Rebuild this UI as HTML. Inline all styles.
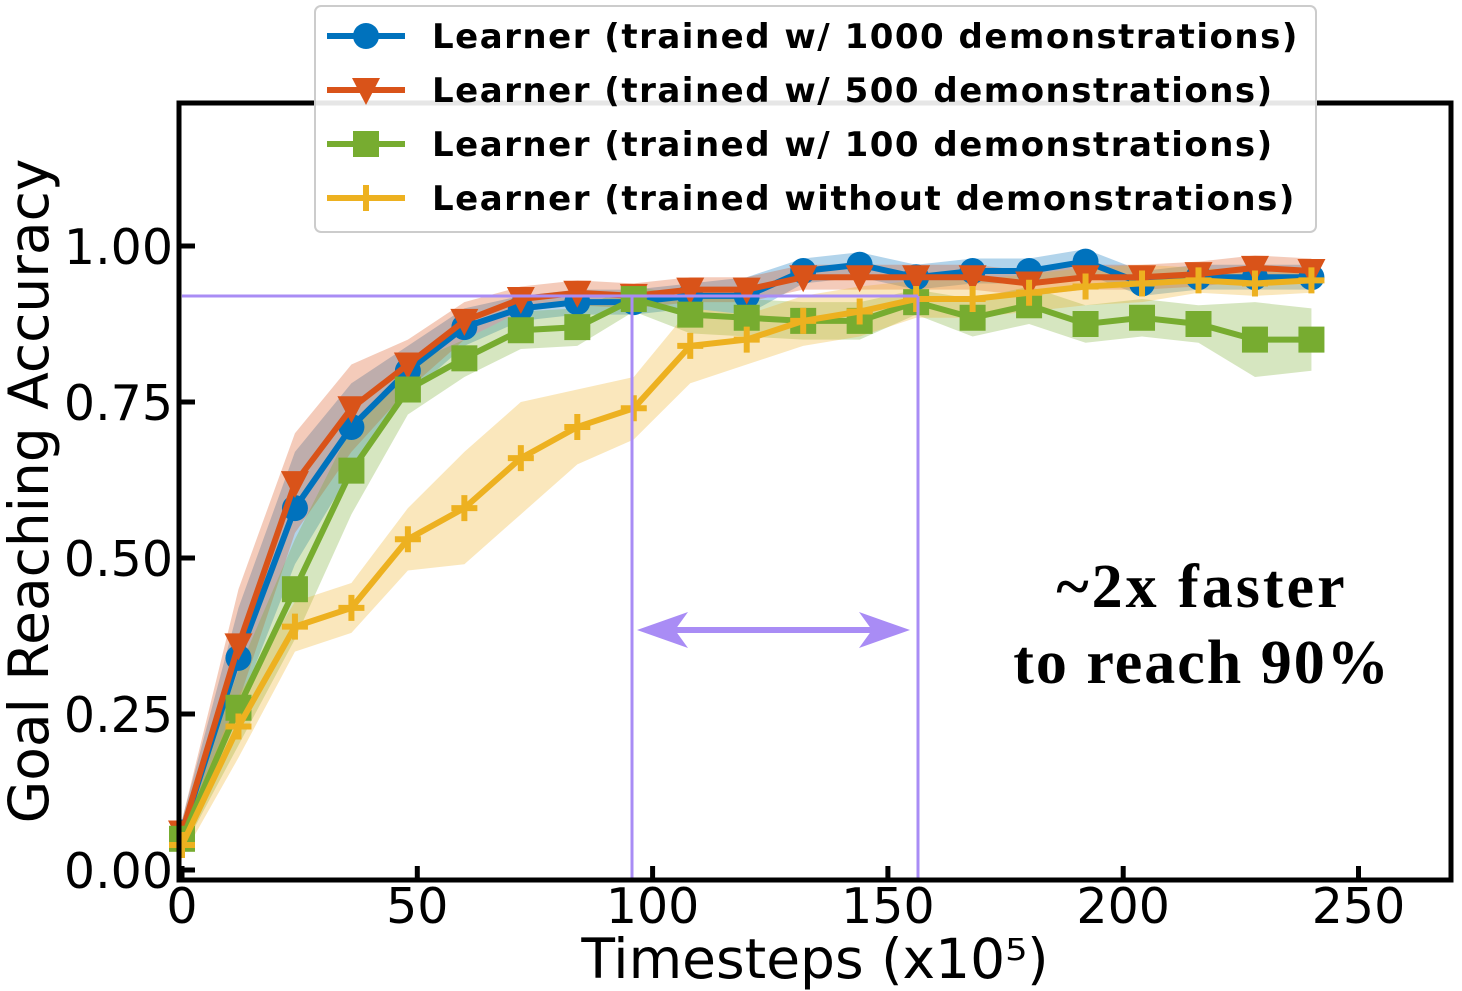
<!DOCTYPE html>
<html><head><meta charset="utf-8"><style>
html,body{margin:0;padding:0;background:#fff;}
svg{display:block;font-family:"DejaVu Sans","Liberation Sans",sans-serif;}
</style></head><body>
<svg id="chart" width="1462" height="991" viewBox="0 0 1462 991">
<g id="bands"></g>
<g id="lines"></g>
<g id="anno">
<line x1="182" y1="296" x2="918" y2="296" stroke="#a98cf5" stroke-width="3"/>
<line x1="632" y1="296" x2="632" y2="880" stroke="#a98cf5" stroke-width="3"/>
<line x1="918" y1="296" x2="918" y2="880" stroke="#a98cf5" stroke-width="3"/>
<line x1="650" y1="630" x2="896" y2="630" stroke="#a98cf5" stroke-width="6"/>
<path d="M637,630 L688,612 L675,630 L688,648 Z" fill="#a98cf5"/>
<path d="M910,630 L859,612 L872,630 L859,648 Z" fill="#a98cf5"/>
<text x="1202" y="607" text-anchor="middle" font-family="Liberation Serif,serif" font-weight="bold" font-size="62" letter-spacing="3">~2x faster</text>
<text x="1202" y="683" text-anchor="middle" font-family="Liberation Serif,serif" font-weight="bold" font-size="62" letter-spacing="2">to reach 90%</text>
</g>
<rect x="179" y="103" width="1272" height="777" fill="none" stroke="#000" stroke-width="5"/>
<g id="axes"></g>
<text x="815" y="978" text-anchor="middle" font-size="55">Timesteps (x10⁵)</text>
<text transform="translate(48,491) rotate(-90)" text-anchor="middle" font-size="55">Goal Reaching Accuracy</text>
<g>
<rect x="315" y="6" width="1001" height="226" rx="6" fill="#fff" fill-opacity="0.9" stroke="#ccc" stroke-width="2"/>
<g id="legend-items"></g>
</g>
</svg>
<script>
const xs=[0,12,24,36,48,60,72,84,96,108,120,132,144,156,168,180,192,204,216,228,240];
const blue=[0.06,0.34,0.58,0.71,0.80,0.87,0.90,0.91,0.91,0.92,0.92,0.96,0.97,0.95,0.96,0.96,0.975,0.94,0.95,0.95,0.95];
const orange=[0.06,0.36,0.62,0.74,0.81,0.88,0.915,0.925,0.92,0.93,0.93,0.95,0.95,0.95,0.95,0.94,0.95,0.95,0.955,0.965,0.96];
const green=[0.05,0.26,0.45,0.64,0.77,0.82,0.865,0.87,0.915,0.89,0.885,0.88,0.88,0.91,0.885,0.905,0.875,0.885,0.875,0.85,0.85];
const yellow=[0.04,0.23,0.39,0.42,0.53,0.58,0.66,0.71,0.74,0.84,0.85,0.88,0.895,0.915,0.915,0.925,0.935,0.94,0.945,0.94,0.945];
const blueStd=[0.02,0.08,0.09,0.07,0.04,0.03,0.02,0.02,0.02,0.02,0.03,0.02,0.02,0.02,0.02,0.02,0.02,0.02,0.02,0.02,0.02];
const orangeStd=[0.02,0.09,0.08,0.07,0.04,0.03,0.02,0.02,0.02,0.02,0.02,0.02,0.02,0.02,0.02,0.02,0.02,0.02,0.02,0.02,0.02];
const greenStd=[0.02,0.06,0.08,0.07,0.04,0.03,0.03,0.03,0.02,0.03,0.03,0.03,0.03,0.02,0.03,0.03,0.03,0.03,0.03,0.06,0.05];
const yellowStd=[0.02,0.05,0.04,0.04,0.05,0.09,0.09,0.06,0.05,0.06,0.04,0.04,0.04,0.03,0.03,0.03,0.03,0.03,0.02,0.02,0.02];
const xTicks=[0,50,100,150,200,250];
const yTicks=[0,0.25,0.5,0.75,1.0];
const yTickLabels=["0.00","0.25","0.50","0.75","1.00"];
const legendLabels=["Learner (trained w/ 1000 demonstrations)","Learner (trained w/ 500 demonstrations)","Learner (trained w/ 100 demonstrations)","Learner (trained without demonstrations)"];
const NS="http://www.w3.org/2000/svg";
const X=v=>182+v*4.706, Y=v=>870-v*624;
function mk(t,a,p){const e=document.createElementNS(NS,t);for(const k in a)e.setAttribute(k,a[k]);p.appendChild(e);return e;}
const series=[
 {d:blue,s:blueStd,c:"#0072bd",m:"circle",n:"1000"},
 {d:orange,s:orangeStd,c:"#d95319",m:"tri",n:"500"},
 {d:green,s:greenStd,c:"#77ac30",m:"square",n:"100"},
 {d:yellow,s:yellowStd,c:"#edb120",m:"plus",n:"none"}];
function marker(g,m,x,y,c){
 let e;
 if(m==="circle")e=mk("circle",{cx:x,cy:y,r:13,fill:c},g);
 else if(m==="tri")e=mk("path",{d:`M${x-14},${y-12} L${x+14},${y-12} L${x},${y+15} Z`,fill:c},g);
 else if(m==="square")e=mk("rect",{x:x-13,y:y-13,width:26,height:26,fill:c},g);
 else e=mk("path",{d:`M${x-13},${y} H${x+13} M${x},${y-13} V${y+13}`,stroke:c,"stroke-width":6,fill:"none"},g);
 return e;}
const bands=document.getElementById("bands"),lines=document.getElementById("lines");
series.forEach(s=>{
 const up=xs.map((x,i)=>`${X(x)},${Y(s.d[i]+s.s[i])}`),lo=xs.map((x,i)=>`${X(x)},${Y(s.d[i]-s.s[i])}`).reverse();
 const b=mk("polygon",{points:up.concat(lo).join(" "),fill:s.c,"fill-opacity":0.3},bands);
 
 
});
series.forEach(s=>{
 const l=mk("polyline",{points:xs.map((x,i)=>`${X(x)},${Y(s.d[i])}`).join(" "),fill:"none",stroke:s.c,"stroke-width":6},lines);
 
 
 xs.forEach((x,i)=>{const m=marker(lines,s.m,X(x),Y(s.d[i]),s.c);
 
 });
});
const ax=document.getElementById("axes");
xTicks.forEach(t=>{
 mk("line",{x1:X(t),x2:X(t),y1:880,y2:866,stroke:"#000","stroke-width":5},ax);
 const e=mk("text",{x:X(t),y:923,"text-anchor":"middle","font-size":49},ax);e.textContent=t;
 
 
});
yTicks.forEach((t,i)=>{
 mk("line",{x1:179,x2:195,y1:Y(t),y2:Y(t),stroke:"#000","stroke-width":5},ax);
 const e=mk("text",{x:173,y:Y(t)+18,"text-anchor":"end","font-size":49},ax);e.textContent=yTickLabels[i];
 
 
});
const lg=document.getElementById("legend-items");
series.forEach((s,i)=>{
 const y=36+i*54;
 mk("line",{x1:327,x2:405,y1:y,y2:y,stroke:s.c,"stroke-width":6},lg);
 marker(lg,s.m,366,y,s.c);
 const t=mk("text",{x:432,y:y+12,"font-size":34,"font-weight":"bold","letter-spacing":1.5},lg);t.textContent=legendLabels[i];
 
 
});
</script>
</body></html>
